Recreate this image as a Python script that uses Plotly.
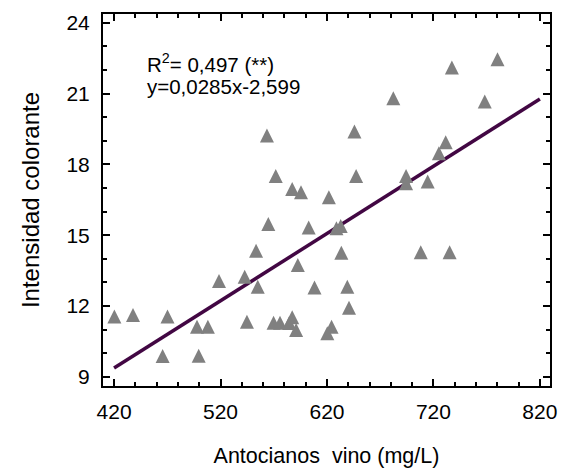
import plotly.graph_objects as go

# Wine anthocyanins (mg/L) vs colour intensity
antocianos = [420.3, 437.8, 465.6, 470.2, 497.9, 499.5, 508.1, 518.6, 542.7, 544.8,
              553.4, 555.0, 563.6, 564.9, 571.9, 569.8, 575.9, 587.3, 584.5, 591.0,
              587.3, 595.6, 592.6, 602.8, 608.3, 621.8, 620.3, 624.3, 628.9, 632.9,
              633.5, 639.1, 640.7, 645.8, 647.4, 682.3, 694.3, 694.3, 714.6, 708.1,
              725.1, 731.5, 735.2, 737.3, 768.2, 780.2]
intensidad = [11.55, 11.62, 9.88, 11.55, 11.12, 9.89, 11.12, 13.06, 13.24, 11.33,
              14.34, 12.82, 19.22, 15.47, 17.51, 11.29, 11.29, 11.52, 11.28, 10.98,
              16.96, 16.82, 13.74, 15.33, 12.78, 16.61, 10.84, 11.12, 15.29, 15.39,
              14.26, 12.82, 11.93, 19.39, 17.51, 20.80, 17.51, 17.20, 17.27, 14.28,
              18.47, 18.94, 14.28, 22.10, 20.66, 22.45]

# Linear fit reported on the chart
pendiente = 0.0285
intercepto = -2.599
r2 = "0,497"
recta_x = [420, 820]
recta_y = [pendiente * v + intercepto for v in recta_x]

x_ticks = [420, 520, 620, 720, 820]
y_ticks = [9, 12, 15, 18, 21, 24]

FONT = "Liberation Sans, Arial, sans-serif"

fig = go.Figure()

fig.add_trace(go.Scatter(
    x=recta_x, y=recta_y, mode="lines",
    line=dict(color="#420743", width=3.5),
    showlegend=False, hoverinfo="skip",
))

# upward triangle as tall as it is wide, centred on each point
fig.add_trace(go.Scatter(
    x=antocianos, y=intensidad, mode="markers",
    marker=dict(symbol="arrow-down", angle=180, standoff=7, size=14,
                color="#808080", line=dict(width=0)),
    showlegend=False,
))

axis_common = dict(
    showline=True, linecolor="black", linewidth=2, mirror="ticks",
    ticks="inside", ticklen=7, tickwidth=2, tickcolor="black",
    showgrid=False, zeroline=False,
    tickfont=dict(family=FONT, size=21, color="black"),
)

fig.update_xaxes(
    range=[409.6, 829.5], tickvals=x_ticks,
    minor=dict(ticks="inside", ticklen=4, tickwidth=2, tickcolor="black", dtick=20),
    ticklabelstandoff=6,
    title=dict(text="Antocianos  vino (mg/L)", standoff=26,
               font=dict(family=FONT, size=21.5, color="black")),
    **axis_common,
)
fig.update_yaxes(
    range=[8.61, 24.37], tickvals=y_ticks,
    minor=dict(ticks="inside", ticklen=4, tickwidth=2, tickcolor="black", dtick=1),
    ticklabelstandoff=7,
    title=dict(text="Intensidad colorante", standoff=20,
               font=dict(family=FONT, size=24, color="black")),
    **axis_common,
)

fig.add_annotation(
    xref="paper", yref="paper", x=0.095, y=0.868, xanchor="left", yanchor="middle",
    text=f"R<sup>2</sup>= {r2} (**)", showarrow=False,
    font=dict(family=FONT, size=20.5, color="black"),
)
fig.add_annotation(
    xref="paper", yref="paper", x=0.095, y=0.804, xanchor="left", yanchor="middle",
    text=f"y={str(pendiente).replace('.', ',')}x{str(intercepto).replace('.', ',')}",
    showarrow=False,
    font=dict(family=FONT, size=20.5, color="black"),
)

fig.update_layout(
    width=568, height=475,
    margin=dict(l=103, r=11, t=14, b=89),
    paper_bgcolor="white", plot_bgcolor="white",
    font=dict(family=FONT, color="black"),
)

fig.write_html("out.html")
